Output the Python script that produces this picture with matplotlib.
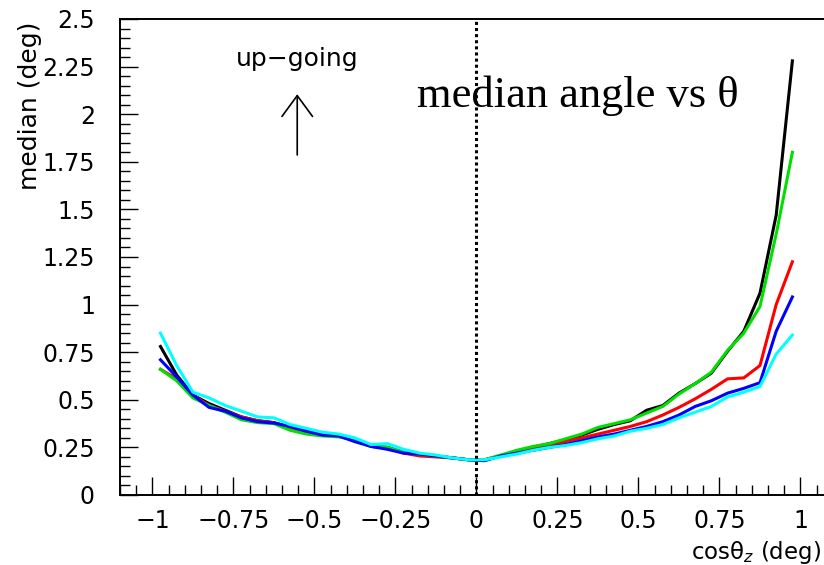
import matplotlib
matplotlib.use('Agg')
import matplotlib.pyplot as plt
from matplotlib.ticker import MultipleLocator, FuncFormatter
import numpy as np

# bin centres in cos(theta_z)
cos_z = [-0.975, -0.925, -0.875, -0.825, -0.775, -0.725, -0.675, -0.625, -0.575, -0.525,
         -0.475, -0.425, -0.375, -0.325, -0.275, -0.225, -0.175, -0.125, -0.075, -0.025,
         0.025, 0.075, 0.125, 0.175, 0.225, 0.275, 0.325, 0.375, 0.425, 0.475,
         0.525, 0.575, 0.625, 0.675, 0.725, 0.775, 0.825, 0.875, 0.925, 0.975]

# median angle (deg) per bin
med_black = [0.78, 0.63, 0.525, 0.48, 0.445, 0.41, 0.39, 0.38, 0.355, 0.335,
             0.315, 0.31, 0.29, 0.255, 0.25, 0.225, 0.215, 0.205, 0.195, 0.185,
             0.185, 0.205, 0.23, 0.25, 0.27, 0.29, 0.315, 0.345, 0.37, 0.39,
             0.445, 0.47, 0.535, 0.585, 0.64, 0.755, 0.86, 1.06, 1.47, 2.28]
med_red = [0.66, 0.61, 0.525, 0.47, 0.44, 0.41, 0.39, 0.38, 0.35, 0.33,
           0.32, 0.31, 0.29, 0.255, 0.25, 0.22, 0.205, 0.2, 0.195, 0.185,
           0.185, 0.205, 0.225, 0.245, 0.26, 0.28, 0.30, 0.32, 0.34, 0.36,
           0.385, 0.42, 0.46, 0.505, 0.555, 0.61, 0.615, 0.68, 1.0, 1.225]
med_green = [0.66, 0.60, 0.51, 0.47, 0.435, 0.395, 0.38, 0.375, 0.34, 0.32,
             0.31, 0.305, 0.29, 0.255, 0.25, 0.225, 0.215, 0.205, 0.195, 0.185,
             0.185, 0.21, 0.235, 0.255, 0.27, 0.295, 0.32, 0.355, 0.375, 0.395,
             0.43, 0.465, 0.53, 0.585, 0.645, 0.76, 0.85, 0.99, 1.37, 1.80]
med_blue = [0.71, 0.62, 0.525, 0.46, 0.44, 0.405, 0.385, 0.378, 0.36, 0.335,
            0.315, 0.31, 0.28, 0.255, 0.24, 0.22, 0.215, 0.205, 0.195, 0.185,
            0.18, 0.205, 0.22, 0.235, 0.25, 0.265, 0.285, 0.305, 0.32, 0.34,
            0.36, 0.385, 0.42, 0.465, 0.495, 0.535, 0.56, 0.59, 0.86, 1.04]
med_cyan = [0.85, 0.68, 0.54, 0.51, 0.47, 0.44, 0.41, 0.405, 0.37, 0.35,
            0.33, 0.32, 0.30, 0.265, 0.27, 0.24, 0.22, 0.21, 0.195, 0.185,
            0.185, 0.20, 0.215, 0.235, 0.25, 0.26, 0.275, 0.295, 0.31, 0.335,
            0.35, 0.37, 0.405, 0.435, 0.465, 0.515, 0.54, 0.57, 0.74, 0.84]

series = [(med_black, 'black'), (med_red, 'red'), (med_green, '#00e000'),
          (med_blue, 'blue'), (med_cyan, 'cyan')]

plt.rcParams['font.family'] = 'DejaVu Sans'

fig = plt.figure(figsize=(8.24, 5.65), dpi=100)
ax = fig.add_axes([0.1456, 0.1239, 0.8652, 0.8425])

for vals, col in series:
    ax.plot(cos_z, vals, color=col, lw=2.2)

ax.axvline(0, color='black', lw=2.2, linestyle=(0, (1, 1)))

ax.set_xlim(-1.1, 1.1)
ax.set_ylim(0, 2.5)

fmt = FuncFormatter(lambda v, p: ('%g' % v).replace('-', '\u2212'))
ax.xaxis.set_major_locator(MultipleLocator(0.25))
ax.xaxis.set_minor_locator(MultipleLocator(0.05))
ax.yaxis.set_major_locator(MultipleLocator(0.25))
ax.yaxis.set_minor_locator(MultipleLocator(0.05))
ax.xaxis.set_major_formatter(fmt)
ax.yaxis.set_major_formatter(fmt)
ax.tick_params(which='both', direction='in', width=1.0, labelsize=17)
ax.tick_params(which='major', length=13)
ax.tick_params(which='minor', length=7)
ax.tick_params(axis='x', which='major', pad=10)
ax.tick_params(axis='y', which='major', pad=18)
ax.spines['right'].set_visible(False)
for s in ['left', 'bottom', 'top']:
    ax.spines[s].set_linewidth(1.4)

fig.text(30 / 824, 1 - 22 / 565, 'median (deg)', rotation=90, ha='center',
         va='top', fontsize=18)
fig.text(821 / 824, 1 - 552 / 565, 'cos\u03b8$_z$ (deg)', ha='right',
         va='center', fontsize=16.5)

ax.text(-0.553, 2.29, 'up\u2212going', ha='center', va='center', fontsize=18)
ax.annotate('', xy=(-0.553, 2.105), xytext=(-0.553, 1.786),
            arrowprops=dict(arrowstyle='->,head_length=0.75,head_width=0.55',
                            mutation_scale=20, lw=1.2, color='black',
                            shrinkA=0, shrinkB=0))

ax.text(-0.183, (495 - 107) / 190.4, 'median angle vs \u03b8', ha='left',
        va='baseline', fontsize=32, family='Liberation Serif')

fig.savefig('out.png', dpi=100)
